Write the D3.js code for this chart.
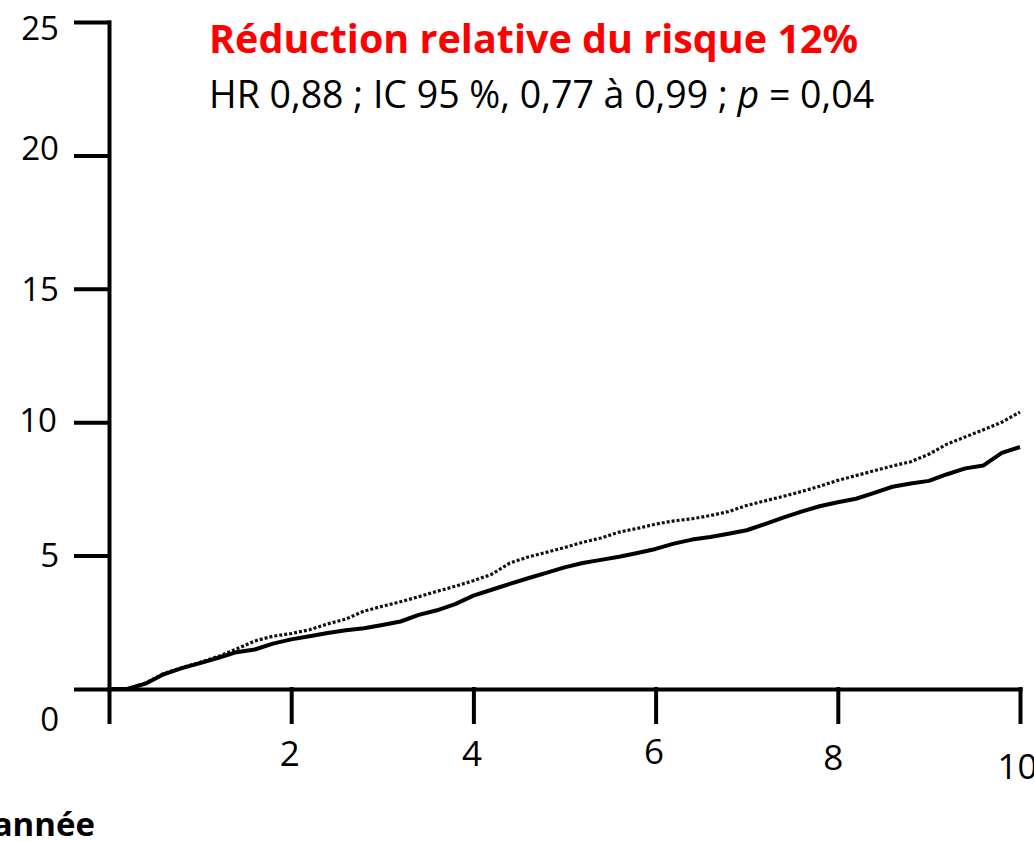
<!DOCTYPE html>
<html>
<head>
<meta charset="utf-8">
<script src="https://cdn.jsdelivr.net/npm/d3@7"></script>
<style>
  body { margin: 0; background: #fff; }
  svg { display: block; font-family: "Open Sans", sans-serif; }
</style>
</head>
<body>
<script>
// data (cumulative %, years)
var annees = [0, 0.2, 0.4, 0.6, 0.8, 1.0, 1.2, 1.4, 1.6, 1.8, 2.0, 2.2, 2.4, 2.6, 2.8, 3.0, 3.2, 3.4, 3.6, 3.8,
  4.0, 4.2, 4.4, 4.6, 4.8, 5.0, 5.2, 5.4, 5.6, 5.8, 6.0, 6.2, 6.4, 6.6, 6.8, 7.0, 7.2, 7.4, 7.6, 7.8,
  8.0, 8.2, 8.4, 8.6, 8.8, 9.0, 9.2, 9.4, 9.6, 9.8, 10.0];
// solid line
var groupeTraitement = [0, 0, 0.2, 0.55, 0.78, 0.97, 1.17, 1.38, 1.48, 1.7, 1.86, 1.98, 2.1, 2.2, 2.28, 2.4, 2.53, 2.78, 2.95, 3.18,
  3.5, 3.72, 3.94, 4.15, 4.35, 4.56, 4.72, 4.84, 4.96, 5.1, 5.25, 5.45, 5.6, 5.7, 5.82, 5.95, 6.18, 6.42, 6.65, 6.85,
  7.0, 7.13, 7.35, 7.58, 7.7, 7.8, 8.05, 8.27, 8.38, 8.85, 9.07];
// dotted line
var groupeControle = [0, 0, 0.22, 0.58, 0.8, 1.0, 1.22, 1.5, 1.8, 1.98, 2.08, 2.22, 2.44, 2.62, 2.92, 3.1, 3.27, 3.46, 3.66, 3.85,
  4.06, 4.3, 4.72, 4.95, 5.12, 5.3, 5.5, 5.66, 5.88, 6.02, 6.18, 6.3, 6.38, 6.5, 6.65, 6.88, 7.05, 7.22, 7.4, 7.6,
  7.82, 8.0, 8.18, 8.36, 8.52, 8.8, 9.18, 9.45, 9.72, 10.0, 10.38];

var yTicks = [0, 5, 10, 15, 20, 25];
var xTicks = [0, 2, 4, 6, 8, 10];
var xTickLabels = ["", "2", "4", "6", "8", "10"];

var titre = "Réduction relative du risque 12%";
var sousTitre = ["HR 0,88 ; IC 95 %, 0,77 à 0,99 ; ", "p", " = 0,04"];
var titreAxeX = "année";

var width = 1034,
    height = 841;

var x = d3.scaleLinear().domain([0, 10]).range([109, 1020]);
var y = d3.scaleLinear().domain([0, 25]).range([689, 22]);

var svg = d3.select("body").append("svg")
  .attr("width", width)
  .attr("height", height);

// y axis
var gy = svg.append("g")
  .attr("transform", "translate(" + x(0) + ",0)")
  .call(d3.axisLeft(y).tickValues(yTicks).tickSize(33).tickSizeOuter(0).tickPadding(17));

// x axis
var gx = svg.append("g")
  .attr("transform", "translate(0," + y(0) + ")")
  .call(d3.axisBottom(x).tickValues(xTicks).tickSize(33).tickSizeOuter(0)
    .tickFormat(function (d, i) { return xTickLabels[i]; }));

[gx, gy].forEach(function (g) {
  g.select(".domain").attr("stroke", "#000").attr("stroke-width", 4).attr("stroke-linecap", "square");
  g.selectAll(".tick line").attr("stroke", "#000").attr("stroke-width", 4).attr("stroke-linecap", "square");
  g.selectAll(".tick text").attr("fill", "#000").attr("font-family", "Open Sans, sans-serif");
});

// y labels, small nudges like the original
var yNudge = {0: [0, 31], 5: [0, 0], 10: [-2, -1], 15: [0, 1], 20: [0, -6], 25: [0, 7]};
gy.selectAll(".tick text")
  .attr("font-size", 33)
  .attr("transform", function (d) { return "translate(" + yNudge[d][0] + "," + yNudge[d][1] + ")"; });

var xNudge = {0: 0, 2: 0, 4: 0, 6: -2, 8: 4, 10: 13};
gx.selectAll(".tick text")
  .attr("font-size", 35)
  .attr("dy", null)
  .attr("y", function (d) { return 77 + xNudge[d]; })
  .attr("x", function (d) { return d == 8 ? -5 : (d == 10 ? -3 : -2); });

// the curves
var ligne = function (vals) {
  return d3.line()
    .x(function (d, i) { return x(annees[i]); })
    .y(function (d) { return y(d); })(vals);
};

svg.append("path")
  .attr("d", ligne(groupeControle))
  .attr("fill", "none")
  .attr("stroke", "#111")
  .attr("stroke-width", 3.2)
  .attr("stroke-dasharray", "3,2");

svg.append("path")
  .attr("d", ligne(groupeTraitement))
  .attr("fill", "none")
  .attr("stroke", "#000")
  .attr("stroke-width", 4)
  .attr("stroke-linejoin", "round");

// titles
svg.append("text")
  .attr("x", 209)
  .attr("y", 53)
  .attr("fill", "#ff0000")
  .attr("font-weight", "bold")
  .attr("font-size", 39.5)
  .text(titre);

var st = svg.append("text")
  .attr("x", 209)
  .attr("y", 108)
  .attr("fill", "#000")
  .attr("font-size", 37.5);
st.append("tspan").text(sousTitre[0]);
st.append("tspan").attr("font-style", "italic").text(sousTitre[1]);
st.append("tspan").text(sousTitre[2]);

svg.append("text")
  .attr("x", 95)
  .attr("y", 836)
  .attr("text-anchor", "end")
  .attr("font-weight", "bold")
  .attr("font-size", 33)
  .text(titreAxeX);
</script>
</body>
</html>
